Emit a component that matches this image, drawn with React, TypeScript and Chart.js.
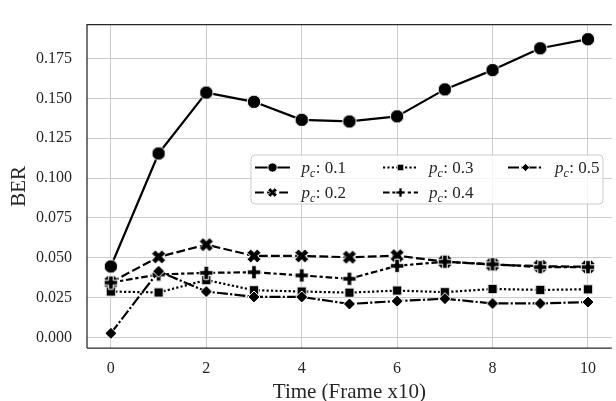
import React, { useEffect, useRef } from "react";
import { Chart, registerables } from "chart.js";

Chart.register(...registerables);

// ---- data ----
const FRAMES = [0, 1, 2, 3, 4, 5, 6, 7, 8, 9, 10];
const PC_LABELS = ["0.1", "0.2", "0.3", "0.4", "0.5"];
const BER_PC_01 = [0.0445, 0.1154, 0.1536, 0.1478, 0.1365, 0.1355, 0.1387, 0.1556, 0.1677, 0.1814, 0.1871];
const BER_PC_02 = [0.0345, 0.0505, 0.0582, 0.0511, 0.0511, 0.0503, 0.0513, 0.0475, 0.0457, 0.0447, 0.0443];
const BER_PC_03 = [0.0288, 0.0282, 0.036, 0.0296, 0.0288, 0.0281, 0.0294, 0.0284, 0.0304, 0.0298, 0.0302];
const BER_PC_04 = [0.0344, 0.0395, 0.0405, 0.0409, 0.0389, 0.0368, 0.0449, 0.0475, 0.0459, 0.0441, 0.0441];
const BER_PC_05 = [0.0026, 0.0415, 0.0288, 0.0254, 0.0254, 0.021, 0.0228, 0.0243, 0.0213, 0.0213, 0.0222];
const X_TICKS = [0, 2, 4, 6, 8, 10];
const Y_TICKS = [0, 0.025, 0.05, 0.075, 0.1, 0.125, 0.15, 0.175];
const X_TITLE = "Time (Frame x10)";
const Y_TITLE = "BER";

// ---- styles ----
const FONT = "'Liberation Serif', 'Times New Roman', serif";
const TEXT = "#262626";
const SERIES_VALUES = [BER_PC_01, BER_PC_02, BER_PC_03, BER_PC_04, BER_PC_05];
const SERIES_SHAPES = ["circle", "x", "square", "plus", "diamond"];
const SERIES_SIZES = [13.5, 14, 9.5, 13.5, 12];
const SERIES_DASH: number[][] = [[], [8.8, 3.3], [2.2, 2.2], [6.6, 2.75, 3.3, 2.75], [11, 2.2, 2.2, 2.2]];
const LINE_W = 2.2;

function shapePath(ctx: CanvasRenderingContext2D, shape: string, h: number) {
  ctx.beginPath();
  if (shape === "circle") {
    ctx.arc(0, 0, h, 0, Math.PI * 2);
  } else if (shape === "square") {
    ctx.rect(-h, -h, 2 * h, 2 * h);
  } else if (shape === "diamond") {
    ctx.moveTo(0, -h);
    ctx.lineTo(h, 0);
    ctx.lineTo(0, h);
    ctx.lineTo(-h, 0);
    ctx.closePath();
  } else {
    const isX = shape === "x";
    const rot = isX ? Math.PI / 4 : 0;
    const H = isX ? h * 1.04 : h;
    const a = isX ? H * 0.36 : H * 0.34;
    const pts = [
      [a, H], [a, a], [H, a], [H, -a], [a, -a], [a, -H],
      [-a, -H], [-a, -a], [-H, -a], [-H, a], [-a, a], [-a, H],
    ];
    const c = Math.cos(rot), s = Math.sin(rot);
    pts.forEach(([px, py], i) => {
      const rx = px * c - py * s;
      const ry = px * s + py * c;
      if (i === 0) ctx.moveTo(rx, ry);
      else ctx.lineTo(rx, ry);
    });
    ctx.closePath();
  }
}

function drawMarker(ctx: CanvasRenderingContext2D, shape: string, size: number, x: number, y: number, edge: number) {
  ctx.save();
  ctx.translate(x, y);
  shapePath(ctx, shape, size / 2);
  ctx.fillStyle = "#000";
  ctx.fill();
  if (edge > 0) {
    ctx.lineWidth = edge;
    ctx.strokeStyle = "#fff";
    ctx.stroke();
  }
  ctx.restore();
}

function makeMarker(shape: string, size: number): HTMLCanvasElement {
  const s = Math.ceil(size + 4);
  const c = document.createElement("canvas");
  c.width = s;
  c.height = s;
  const ctx = c.getContext("2d")!;
  drawMarker(ctx, shape, size, s / 2, s / 2, 1);
  return c;
}

function drawLabel(ctx: CanvasRenderingContext2D, x: number, y: number, value: string) {
  ctx.fillStyle = TEXT;
  ctx.textBaseline = "alphabetic";
  ctx.textAlign = "left";
  ctx.font = `italic 17px ${FONT}`;
  ctx.fillText("p", x, y);
  let w = ctx.measureText("p").width;
  ctx.font = `italic 12px ${FONT}`;
  ctx.fillText("c", x + w, y + 3.5);
  w += ctx.measureText("c").width + 0.5;
  ctx.font = `17px ${FONT}`;
  ctx.fillText(": " + value, x + w, y);
}

const LEGEND_CELLS = [
  { hx: 255, tx: 301.5, row: 0 },
  { hx: 255, tx: 301.5, row: 1 },
  { hx: 383, tx: 429, row: 0 },
  { hx: 383, tx: 429, row: 1 },
  { hx: 508, tx: 555, row: 0 },
];

const customPlugin = {
  id: "customDecor",
  afterDatasetsDraw(chart: any) {
    const { ctx, chartArea: a } = chart;
    ctx.save();
    ctx.strokeStyle = TEXT;
    ctx.lineWidth = 1.25;
    ctx.beginPath();
    ctx.moveTo(a.left, a.bottom);
    ctx.lineTo(a.left, a.top);
    ctx.lineTo(a.right, a.top);
    ctx.moveTo(a.left, a.bottom);
    ctx.lineTo(a.right, a.bottom);
    ctx.stroke();
    ctx.restore();
  },
  afterDraw(chart: any) {
    const { ctx, chartArea: a } = chart;
    ctx.save();
    // legend frame
    const lx = 251, ly = 155, lw = 352, lh = 49, r = 4;
    ctx.beginPath();
    ctx.moveTo(lx + r, ly);
    ctx.arcTo(lx + lw, ly, lx + lw, ly + lh, r);
    ctx.arcTo(lx + lw, ly + lh, lx, ly + lh, r);
    ctx.arcTo(lx, ly + lh, lx, ly, r);
    ctx.arcTo(lx, ly, lx + lw, ly, r);
    ctx.closePath();
    ctx.fillStyle = "rgba(255,255,255,0.8)";
    ctx.fill();
    ctx.strokeStyle = "#cccccc";
    ctx.lineWidth = 1;
    ctx.stroke();
    PC_LABELS.forEach((lab, i) => {
      const cell = LEGEND_CELLS[i];
      const cy = 167.5 + cell.row * 25;
      ctx.save();
      ctx.strokeStyle = "#000";
      ctx.lineWidth = LINE_W;
      ctx.setLineDash(SERIES_DASH[i]);
      ctx.beginPath();
      ctx.moveTo(cell.hx, cy);
      ctx.lineTo(cell.hx + 35, cy);
      ctx.stroke();
      ctx.restore();
      drawMarker(ctx, SERIES_SHAPES[i], SERIES_SIZES[i] * 0.68, cell.hx + 17.5, cy, 0.8);
      drawLabel(ctx, cell.tx, cy + 5.5, lab);
    });
    // axis titles
    ctx.fillStyle = TEXT;
    ctx.font = `21px ${FONT}`;
    ctx.textAlign = "center";
    ctx.textBaseline = "alphabetic";
    ctx.fillText(X_TITLE, (a.left + a.right) / 2, 398);
    ctx.save();
    ctx.translate(25, (a.top + a.bottom) / 2);
    ctx.rotate(-Math.PI / 2);
    ctx.fillText(Y_TITLE, 0, 0);
    ctx.restore();
    ctx.restore();
  },
};

export default function App() {
  const ref = useRef<HTMLCanvasElement | null>(null);
  useEffect(() => {
    if (!ref.current) return;
    const datasets = SERIES_VALUES.map((vals, i) => ({
      label: "p_c: " + PC_LABELS[i],
      data: FRAMES.map((f, j) => ({ x: f, y: vals[j] })),
      borderColor: "#000",
      backgroundColor: "#000",
      borderWidth: LINE_W,
      borderDash: SERIES_DASH[i],
      borderJoinStyle: "round" as const,
      pointStyle: makeMarker(SERIES_SHAPES[i], SERIES_SIZES[i]),
      pointRadius: 6,
      tension: 0,
      order: SERIES_VALUES.length - i,
      clip: false as any,
    }));
    const chart = new Chart(ref.current, {
      type: "line",
      data: { datasets },
      options: {
        animation: false,
        responsive: false,
        maintainAspectRatio: false,
        devicePixelRatio: 1,
        events: [],
        layout: { padding: { top: 12, right: 3, left: 0, bottom: 0 } },
        plugins: { legend: { display: false }, tooltip: { enabled: false } },
        scales: {
          x: {
            type: "linear",
            min: -0.5,
            max: 10.5,
            afterFit: (s: any) => {
              s.height = 53;
            },
            afterBuildTicks: (s: any) => {
              s.ticks = X_TICKS.map((v) => ({ value: v }));
            },
            ticks: {
              padding: 11,
              color: TEXT,
              font: { family: FONT, size: 16 },
              callback: (v: any) => String(v),
              maxRotation: 0,
            },
            grid: { color: "#cccccc", lineWidth: 1, drawTicks: false },
            border: { display: false },
          },
          y: {
            type: "linear",
            min: -0.00664,
            max: 0.19626,
            afterFit: (s: any) => {
              s.width = 87;
            },
            afterBuildTicks: (s: any) => {
              s.ticks = Y_TICKS.map((v) => ({ value: v }));
            },
            ticks: {
              padding: 15,
              color: TEXT,
              font: { family: FONT, size: 16 },
              callback: (v: any) => Number(v).toFixed(3),
            },
            grid: { color: "#cccccc", lineWidth: 1, drawTicks: false },
            border: { display: false },
          },
        },
      },
      plugins: [customPlugin],
    });
    return () => chart.destroy();
  }, []);
  return (
    <div style={{ position: "absolute", left: 0, top: 0, width: 616, height: 401, overflow: "hidden", background: "#fff" }}>
      <canvas ref={ref} width={620} height={401} style={{ width: 620, height: 401, display: "block" }} />
    </div>
  );
}
